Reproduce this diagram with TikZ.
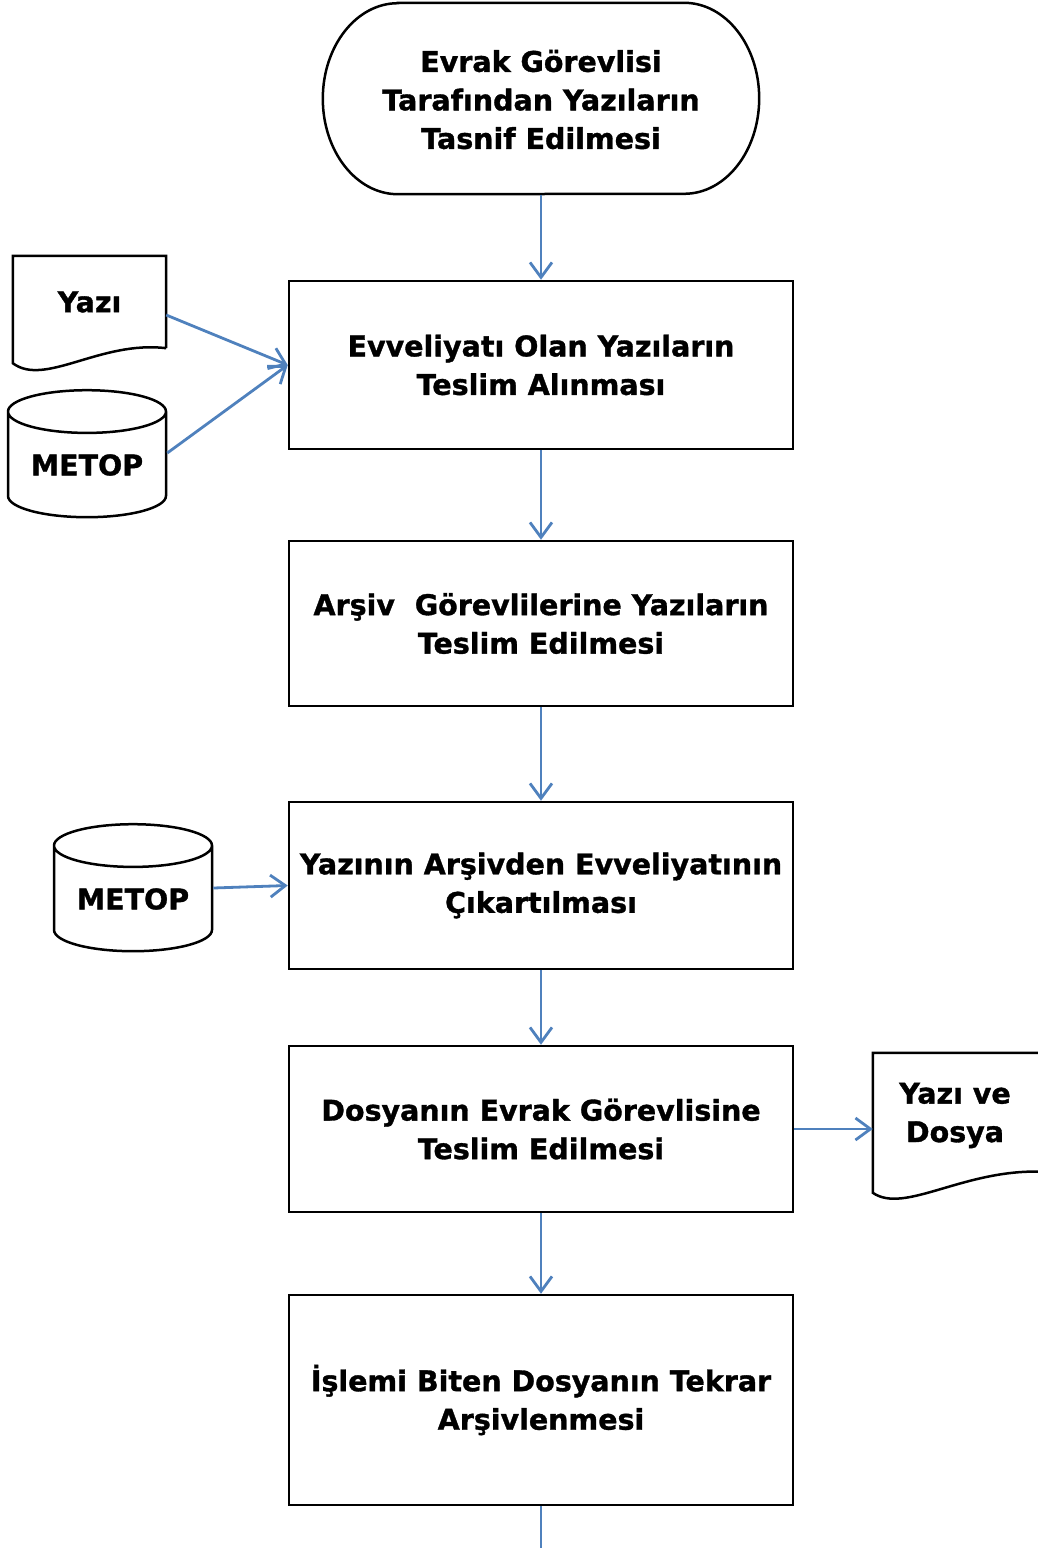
\documentclass[tikz,border=0pt]{standalone}
\usepackage{fontspec}
\setmainfont{DejaVu Sans}[BoldFeatures={FakeBold=1.2}]
\usetikzlibrary{positioning,shapes.geometric,arrows.meta,calc}
\definecolor{flowBlue}{RGB}{79,129,189}
\newcommand{\flowFont}{\fontsize{28.5}{38.5}\selectfont\bfseries}
\tikzset{
    flowBase/.style={
        rectangle,
        font=\flowFont,
        align=center,
        inner sep=0pt
    },
    outline/.style={draw=black, line width=2.5pt},
    % Process steps
    process/.style={flowBase, outline, minimum width=504pt},
    terminal/.style={flowBase, minimum width=436pt, minimum height=191pt},
    paper/.style={flowBase},
    archive/.style={
        cylinder,
        outline,
        shape border rotate=90,
        aspect=0.38,
        minimum height=127pt,
        minimum width=158pt,
        font=\flowFont,
        inner sep=0pt
    },
    % Arrows
    flowLine/.style={line width=2.8pt, draw=flowBlue},
    flowArrow/.style={flowLine, -{Straight Barb[length=15pt,width=22pt]}}
}
\begin{document}
\begin{tikzpicture}[x=1pt,y=-1pt]
    \useasboundingbox (0,0) rectangle (1038,1548);

    % start
    \node[terminal] (start) at (541,99.5) {Evrak Görevlisi\\Tarafından Yazıların\\Tasnif Edilmesi};
    \draw[outline] ($(start.north west)+(75,-1)$) -- ($(start.north east)+(-75,-1)$)
        arc[start angle=-90, end angle=90, x radius=75, y radius=95.5]
        -- ($(start.south west)+(75,-1)$)
        arc[start angle=90, end angle=270, x radius=75, y radius=95.5] -- cycle;

    % steps
    \node[process, minimum height=168pt] (receive) at (541,365) {Evveliyatı Olan Yazıların\\Teslim Alınması};
    \node[process, minimum height=165pt] (handover) at (541,623.5) {Arşiv\ \ Görevlilerine Yazıların\\Teslim Edilmesi};
    \node[process, minimum height=167pt] (extract) at (541,885.5) {Yazının Arşivden Evveliyatının\\Çıkartılması};
    \node[process, minimum height=166pt] (deliver) at (541,1129) {Dosyanın Evrak Görevlisine\\Teslim Edilmesi};
    \node[process, minimum height=210pt] (rearchive) at (541,1400) {İşlemi Biten Dosyanın Tekrar\\Arşivlenmesi};
    \coordinate (exit) at (541,1560);

    % inputs and outputs
    \node[paper, minimum width=153pt, minimum height=92pt] (yazi) at (89.5,302) {Yazı};
    \draw[outline] (yazi.south east) -- (yazi.north east) -- (yazi.north west)
        -- ($(yazi.south west)+(0,15)$) .. controls +(32,24) and +(-66,-8) .. (yazi.south east);
    \node[archive] (metopA) at (87,465) {METOP};
    \node[archive] (metopB) at (133,899) {METOP};
    \node[paper, minimum width=164pt, minimum height=125pt] (dosya) at (955,1115.5) {Yazı ve\\Dosya};
    \draw[outline] ($(dosya.north west)+(190,0)$) -- (dosya.north west)
        -- ($(dosya.north west)+(0,140)$) .. controls +(32,22) and +(-80,-4) .. ($(dosya.north west)+(172,119)$);

    % connectors
    \draw[flowArrow] (start) -- (receive);
    \draw[flowArrow] (receive) -- (handover);
    \draw[flowArrow] (handover) -- (extract);
    \draw[flowArrow] (extract) -- (deliver);
    \draw[flowArrow] (deliver) -- (rearchive);
    \draw[flowLine] (rearchive) -- (exit);
    \draw[flowArrow] ([yshift=-13pt]yazi.east) -- (receive.west);
    \draw[flowArrow] ([yshift=12pt]metopA.east) -- (receive.west);
    \draw[flowArrow] ([yshift=11pt]metopB.east) -- (extract.west);
    \draw[flowArrow] (deliver.east) -- (deliver.east -| dosya.west);
\end{tikzpicture}
\end{document}
